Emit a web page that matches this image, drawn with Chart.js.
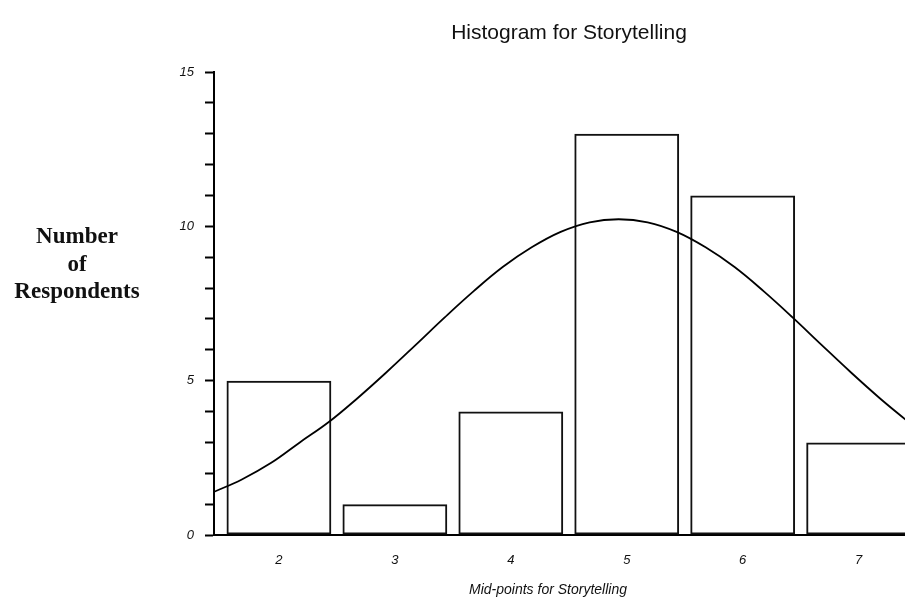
<!DOCTYPE html>
<html>
<head>
<meta charset="utf-8">
<script src="https://cdn.jsdelivr.net/npm/chart.js@4/dist/chart.umd.min.js"></script>
<style>
  html, body { margin: 0; padding: 0; background: #fff; overflow: hidden; }
  #wrap { position: relative; width: 905px; height: 601px; }
  canvas { display: block; }
</style>
</head>
<body>
<div id="wrap"><canvas id="chart" width="905" height="601"></canvas></div>
<script>
// Histogram bins (mid-points) and respondent counts
const midPoints = [2, 3, 4, 5, 6, 7];
const counts = [5, 1, 4, 13, 11, 3];

// Fitted normal curve, sampled along the x axis
const curveX = [1.43, 1.68, 1.93, 2.18, 2.43, 2.68, 2.93, 3.18, 3.43, 3.68, 3.93, 4.18, 4.43,
                4.68, 4.93, 5.18, 5.43, 5.68, 5.93, 6.18, 6.43, 6.68, 6.93, 7.18, 7.43];
const curveY = [1.38, 1.8, 2.33, 3.0, 3.66, 4.44, 5.28, 6.16, 7.05, 7.9, 8.68, 9.32, 9.82,
                10.13, 10.23, 10.13, 9.82, 9.32, 8.68, 7.9, 7.05, 6.16, 5.28, 4.44, 3.66];

// Axis ticks
const xTickValues = [2, 3, 4, 5, 6, 7];
const yTickLabels = [0, 5, 10, 15];

const chartTitle = 'Histogram for Storytelling';
const xTitle = 'Mid-points for Storytelling';
const yTitleLines = ['Number', 'of', 'Respondents'];

const textPlugin = {
  id: 'chartText',
  afterDraw(chart) {
    const ctx = chart.ctx;
    ctx.save();
    ctx.fillStyle = '#111';
    ctx.textAlign = 'center';

    ctx.font = '21px "Liberation Sans", Arial, sans-serif';
    ctx.textBaseline = 'middle';
    ctx.fillText(chartTitle, 569, 33);

    ctx.font = 'italic 14px "Liberation Sans", Arial, sans-serif';
    ctx.fillText(xTitle, 548, 590);

    ctx.font = 'bold 23px "Liberation Serif", "Times New Roman", serif';
    ctx.textBaseline = 'alphabetic';
    const baselines = [243, 271, 298];
    yTitleLines.forEach((t, i) => ctx.fillText(t, 77, baselines[i]));
    ctx.restore();
  }
};

new Chart(document.getElementById('chart'), {
  data: {
    datasets: [
      {
        type: 'line',
        data: curveX.map((x, i) => ({ x: x, y: curveY[i] })),
        borderColor: '#000',
        borderWidth: 1.8,
        pointRadius: 0,
        tension: 0.4,
        fill: false,
        order: 0
      },
      {
        type: 'bar',
        data: midPoints.map((x, i) => ({ x: x, y: counts[i] })),
        backgroundColor: 'rgba(255,255,255,0)',
        borderColor: '#111',
        borderWidth: 2,
        borderSkipped: false,
        categoryPercentage: 1.0,
        barPercentage: 0.904,
        order: 1
      }
    ]
  },
  options: {
    responsive: false,
    animation: false,
    devicePixelRatio: 1,
    layout: { padding: { top: 72, right: 0, bottom: 0, left: 0 } },
    plugins: {
      legend: { display: false },
      tooltip: { enabled: false },
      title: { display: false }
    },
    scales: {
      x: {
        type: 'linear',
        offset: false,
        min: 1.44,
        max: 7.40,
        afterBuildTicks(scale) {
          scale.ticks = xTickValues.map(v => ({ value: v }));
        },
        afterFit(scale) { scale.height = 66; },
        grid: { display: false },
        border: { display: true, color: '#000', width: 2 },
        ticks: {
          padding: 10,
          color: '#111',
          font: { family: '"Liberation Sans", Arial, sans-serif', size: 13, style: 'italic' },
          maxRotation: 0,
          callback: v => String(v)
        }
      },
      y: {
        type: 'linear',
        min: 0,
        max: 15,
        afterFit(scale) { scale.width = 214; },
        grid: {
          drawOnChartArea: false,
          drawTicks: true,
          tickLength: 9,
          tickColor: '#000',
          tickWidth: 2
        },
        border: { display: true, color: '#000', width: 2 },
        ticks: {
          stepSize: 1,
          padding: 11,
          color: '#111',
          font: { family: '"Liberation Sans", Arial, sans-serif', size: 13, style: 'italic' },
          callback: v => (yTickLabels.includes(v) ? String(v) : '')
        }
      }
    }
  },
  plugins: [textPlugin]
});
</script>
</body>
</html>
